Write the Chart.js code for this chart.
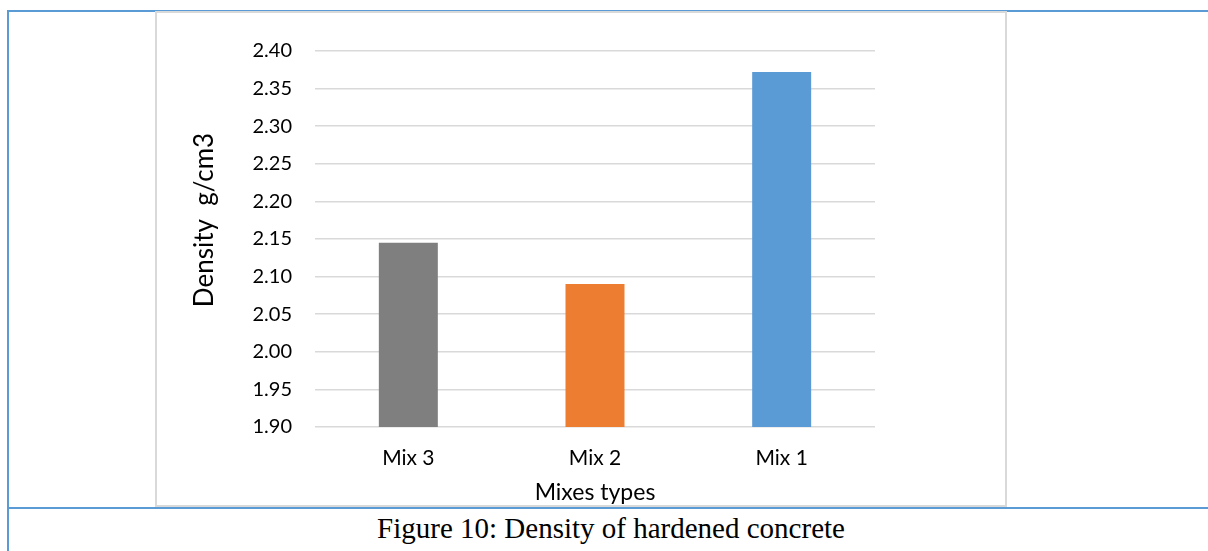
<!DOCTYPE html>
<html>
<head>
<meta charset="utf-8">
<script src="https://cdn.jsdelivr.net/npm/chart.js@4/dist/chart.umd.min.js"></script>
<style>
  html, body { margin: 0; padding: 0; background: #fff; }
  body { width: 1208px; height: 551px; position: relative; overflow: hidden; }
  .rule { position: absolute; background: #5b9bd5; }
  #frame { position: absolute; left: 155px; top: 11px; width: 852px; height: 496px;
           box-sizing: border-box; border: 2px solid #d9d9d9; background: #fff; }
  #chart { position: absolute; left: 157px; top: 13px; }
  #caption { position: absolute; left: 8px; width: 1206px; top: 509px; text-align: center;
             font-family: "Liberation Serif", "Times New Roman", serif; font-size: 29px;
             line-height: 38px; color: #000; }
</style>
</head>
<body>
<div class="rule" style="left:8px; top:10px; width:1200px; height:2px;"></div>
<div class="rule" style="left:7px; top:10px; width:2px; height:541px;"></div>
<div id="frame"></div>
<div class="rule" style="left:8px; top:507px; width:1200px; height:2px;"></div>
<canvas id="chart" width="848" height="492"></canvas>
<div id="caption">Figure 10: Density of hardened concrete</div>
<script>
// Mix categories along the x axis
const categories = ['Mix 3', 'Mix 2', 'Mix 1'];
// Hardened density per mix, g/cm3
const densityValues = [2.145, 2.090, 2.372];
// Value axis tick labels
const yTickLabels = ['1.90', '1.95', '2.00', '2.05', '2.10', '2.15', '2.20', '2.25', '2.30', '2.35', '2.40'];
const yAxisTitle = 'Density  g/cm3';

const FAMILY = 'Lato, "Open Sans", sans-serif';
const labelFont = { family: FAMILY, size: 20 };

// Value-axis title, drawn rotated a little above the middle of the axis
const yTitlePlugin = {
  id: 'yTitle',
  afterDraw(chart) {
    const { ctx, chartArea } = chart;
    ctx.save();
    ctx.translate(48, (chartArea.top + chartArea.bottom) / 2 - 19);
    ctx.rotate(-Math.PI / 2);
    ctx.font = '26px ' + FAMILY;
    ctx.fillStyle = '#000';
    ctx.textAlign = 'center';
    ctx.textBaseline = 'middle';
    ctx.fillText(yAxisTitle, 0, 0);
    ctx.restore();
  }
};

new Chart(document.getElementById('chart'), {
  type: 'bar',
  data: {
    labels: categories,
    datasets: [{
      data: densityValues,
      backgroundColor: ['#7f7f7f', '#ed7d31', '#5b9bd5'],
      borderWidth: 0,
      barPercentage: 1,
      categoryPercentage: 0.316
    }]
  },
  options: {
    responsive: false,
    devicePixelRatio: 1,
    animation: false,
    layout: { padding: { left: 0, top: 38, right: 130, bottom: 0 } },
    plugins: { legend: { display: false }, tooltip: { enabled: false } },
    scales: {
      x: {
        grid: { display: false, drawTicks: false },
        border: { display: false },
        ticks: { color: '#000', font: { family: FAMILY, size: 21 }, padding: 19 },
        title: { display: true, text: 'Mixes types', color: '#000', font: { family: FAMILY, size: 23 },
                 padding: { top: 0, bottom: -1 } },
        afterFit: (s) => { s.height = 78; }
      },
      y: {
        min: 1.90,
        max: 2.40,
        grid: { color: '#d9d9d9', lineWidth: 1.6, drawTicks: false },
        border: { display: false },
        ticks: {
          stepSize: 0.05,
          color: '#000',
          font: labelFont,
          padding: 23,
          callback: (v, i) => yTickLabels[i]
        },
        afterFit: (s) => { s.width = 158; }
      }
    }
  },
  plugins: [yTitlePlugin]
});
</script>
</body>
</html>
